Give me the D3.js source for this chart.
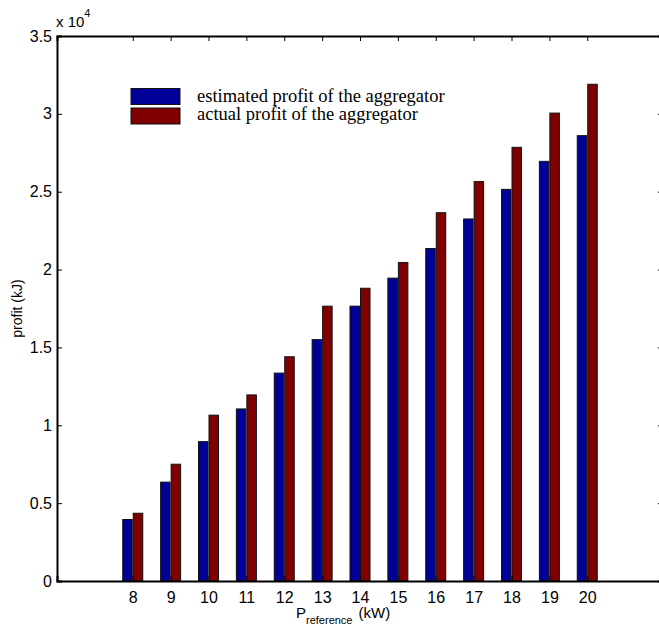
<!DOCTYPE html>
<meta charset="utf-8">
<script src="https://d3js.org/d3.v7.min.js"></script>
<style>
  body { margin: 0; background: #fff; }
  text { font-family: "Liberation Sans", Arial, sans-serif; }
</style>
<div id="chart"></div>
<script>
// data
var categories = [8, 9, 10, 11, 12, 13, 14, 15, 16, 17, 18, 19, 20];
var estimated = [3950, 6350, 8950, 11050, 13350, 15500, 17650, 19450, 21350, 23250, 25150, 26950, 28600];
var actual    = [4350, 7500, 10650, 11950, 14400, 17650, 18800, 20450, 23650, 25650, 27850, 30050, 31900];
var yTicks = [0, 5000, 10000, 15000, 20000, 25000, 30000, 35000];
var seriesNames = ["estimated profit of the aggregator", "actual profit of the aggregator"];
var colors = ["#000096", "#7f0000"];

var W = 659, H = 628;
// plot box (right edge runs past the window, as in the picture)
var pLeft = 57, pRight = 663, pTop = 36, pBottom = 581;

var svg = d3.select("#chart").append("svg")
    .attr("width", W).attr("height", H);

var x = d3.scaleLinear().domain([6, 22]).range([pLeft, pRight]);
var y = d3.scaleLinear().domain([0, 35000]).range([pBottom, pTop]);

var barW = 9.5;

// bars, one group per series
[estimated, actual].forEach(function(vals, s) {
  svg.append("g").selectAll("rect")
    .data(vals)
    .enter().append("rect")
      .attr("x", function(d, i) { return s === 0 ? x(categories[i]) - barW - 0.5 : x(categories[i]) + 0.5; })
      .attr("y", function(d) { return y(d); })
      .attr("width", barW)
      .attr("height", function(d) { return y(0) - y(d); })
      .style("fill", colors[s])
      .style("stroke", "#111")
      .style("stroke-width", 1);
});

// axes with inward ticks
var fmt = function(d) { return d / 1e4; };

var yl = svg.append("g").attr("transform", "translate(" + pLeft + ",0)")
  .call(d3.axisLeft(y).tickValues(yTicks).tickFormat(fmt).tickSize(-5).tickPadding(5));
var yr = svg.append("g").attr("transform", "translate(" + pRight + ",0)")
  .call(d3.axisRight(y).tickValues(yTicks).tickFormat("").tickSize(-5));
var xb = svg.append("g").attr("transform", "translate(0," + pBottom + ")")
  .call(d3.axisBottom(x).tickValues(categories).tickFormat(d3.format("d")).tickSize(-5).tickPadding(11));
var xt = svg.append("g").attr("transform", "translate(0," + pTop + ")")
  .call(d3.axisTop(x).tickValues(categories).tickFormat("").tickSize(-5));

[yl, yr, xb, xt].forEach(function(g) {
  g.select(".domain").attr("stroke", "#000").attr("stroke-width", 2);
  g.selectAll(".tick line").attr("stroke", "#000");
  g.selectAll(".tick text").style("font-size", "16px").attr("fill", "#000")
    .style("font-family", "'Liberation Sans', Arial, sans-serif");
});

// exponent label
var ex = svg.append("text").attr("x", 56).attr("y", 27).style("font-size", "15px");
ex.append("tspan").text("x 10");
ex.append("tspan").attr("dy", -10).style("font-size", "11px").text("4");

// y label
svg.append("text")
  .attr("transform", "translate(22," + ((pTop + pBottom) / 2) + ") rotate(-90)")
  .attr("text-anchor", "middle")
  .style("font-size", "14px")
  .text("profit (kJ)");

// x label with subscript
var xlab = svg.append("text").attr("x", 296).attr("y", 618).style("font-size", "15px");
xlab.append("tspan").text("P");
xlab.append("tspan").attr("dy", 6).style("font-size", "11px").text("reference");
xlab.append("tspan").attr("dy", -6).attr("dx", 6).text("(kW)");

// legend
var leg = svg.append("g");
seriesNames.forEach(function(name, i) {
  leg.append("rect")
    .attr("x", 131).attr("y", 88.5 + i * 19.5)
    .attr("width", 49).attr("height", 16)
    .style("fill", colors[i]).style("stroke", "#111");
  leg.append("text")
    .attr("x", 197).attr("y", 102 + i * 17.5)
    .style("font-family", "'Liberation Serif', 'Times New Roman', serif")
    .style("font-size", "18.5px")
    .text(name);
});
</script>
